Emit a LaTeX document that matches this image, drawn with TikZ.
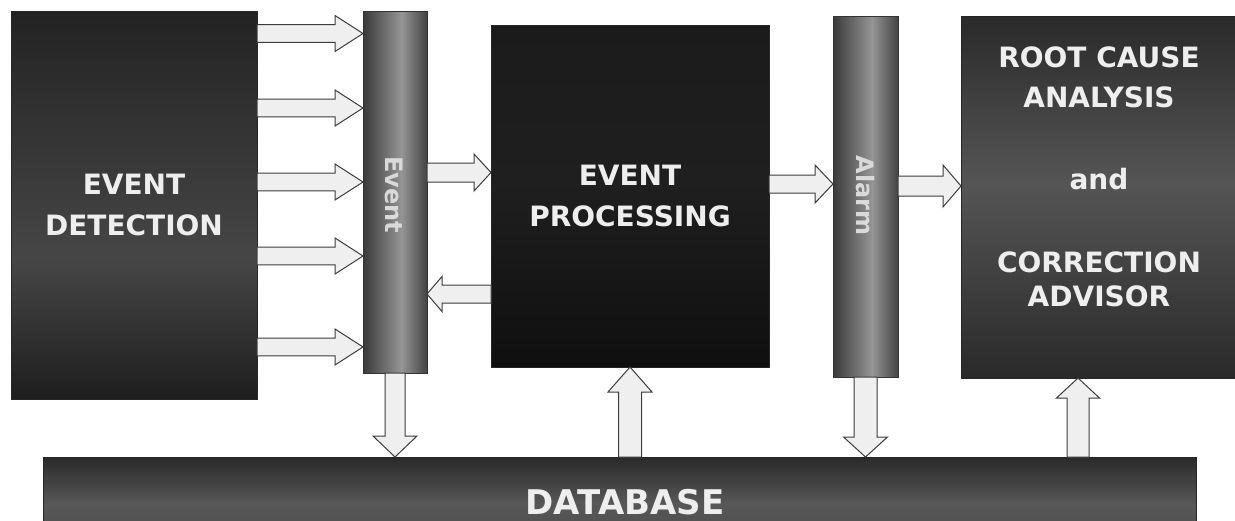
\documentclass[tikz,border=0pt]{standalone}
\usepackage{fontspec}
\setmainfont{DejaVu Sans}
\usetikzlibrary{calc}
\definecolor{edT}{HTML}{232323}
\definecolor{edM}{HTML}{464646}
\definecolor{edB}{HTML}{1E1E1E}
\definecolor{epT}{HTML}{1B1B1B}
\definecolor{epM}{HTML}{1F1F1F}
\definecolor{epB}{HTML}{0F0F0F}
\definecolor{rcT}{HTML}{2A2A2A}
\definecolor{rcM}{HTML}{555555}
\definecolor{rcB}{HTML}{2A2A2A}
\definecolor{dbT}{HTML}{2A2A2A}
\definecolor{dbM}{HTML}{575757}
\definecolor{dbB}{HTML}{4A4A4A}
\definecolor{barD}{HTML}{3A3A3A}
\definecolor{barL}{HTML}{959595}
\definecolor{barE}{HTML}{444444}
\definecolor{arrF}{HTML}{EFEFEF}
\definecolor{arrD}{HTML}{3C3C3C}
\definecolor{txtW}{HTML}{EEEEEE}
\definecolor{txtB}{HTML}{D9D9D9}
\pgfdeclareverticalshading{edsh}{100bp}{color(0bp)=(edB); color(25bp)=(edB); color(43bp)=(edM); color(75bp)=(edT); color(100bp)=(edT)}
\pgfdeclareverticalshading{epsh}{100bp}{color(0bp)=(epB); color(25bp)=(epB); color(52bp)=(epM); color(75bp)=(epT); color(100bp)=(epT)}
\pgfdeclareverticalshading{rcsh}{100bp}{color(0bp)=(rcB); color(25bp)=(rcB); color(52bp)=(rcM); color(75bp)=(rcT); color(100bp)=(rcT)}
\pgfdeclareverticalshading{dbsh}{100bp}{color(0bp)=(dbB); color(25bp)=(dbB); color(52bp)=(dbM); color(75bp)=(dbT); color(100bp)=(dbT)}
\pgfdeclarehorizontalshading{barsh}{100bp}{color(0bp)=(barD); color(25bp)=(barD); color(55bp)=(barL); color(75bp)=(barE); color(100bp)=(barE)}
\tikzset{
  box/.style={draw=black!85, line width=0.8pt, inner sep=0pt, outer sep=0pt, anchor=north west},
  bigtxt/.style={text=txtW, font=\bfseries\fontsize{28}{41}\selectfont, align=center, inner sep=0pt},
  bartxt/.style={text=txtB, font=\bfseries\fontsize{24}{28}\selectfont, inner sep=0pt, rotate=-90},
  barbox/.style={draw=black!80, line width=0.8pt, shading=barsh, inner sep=0pt, outer sep=0pt, anchor=north west},
  bsw/.store in=\bsw, bhw/.store in=\bhw, bhl/.store in=\bhl,
  bsw=9pt, bhw=18.5pt, bhl=17pt,
  blk/.style={draw=arrD, fill=arrF, line width=1pt, line join=miter},
  arR/.style={blk, to path={let \p1=(\tikztostart), \p2=(\tikztotarget) in
    (\x1,{\y1+\bsw}) -- ({\x2-\bhl},{\y1+\bsw}) -- ({\x2-\bhl},{\y1+\bhw}) -- (\x2,\y1)
    -- ({\x2-\bhl},{\y1-\bhw}) -- ({\x2-\bhl},{\y1-\bsw}) -- (\x1,{\y1-\bsw}) -- cycle}},
  arL/.style={blk, to path={let \p1=(\tikztostart), \p2=(\tikztotarget) in
    (\x1,{\y1+\bsw}) -- ({\x2+\bhl},{\y1+\bsw}) -- ({\x2+\bhl},{\y1+\bhw}) -- (\x2,\y1)
    -- ({\x2+\bhl},{\y1-\bhw}) -- ({\x2+\bhl},{\y1-\bsw}) -- (\x1,{\y1-\bsw}) -- cycle}},
  arD/.style={blk, to path={let \p1=(\tikztostart), \p2=(\tikztotarget) in
    ({\x1-\bsw},\y1) -- ({\x1-\bsw},{\y2+\bhl}) -- ({\x1-\bhw},{\y2+\bhl}) -- (\x1,\y2)
    -- ({\x1+\bhw},{\y2+\bhl}) -- ({\x1+\bsw},{\y2+\bhl}) -- ({\x1+\bsw},\y1) -- cycle}},
  arU/.style={blk, to path={let \p1=(\tikztostart), \p2=(\tikztotarget) in
    ({\x1-\bsw},\y1) -- ({\x1-\bsw},{\y2-\bhl}) -- ({\x1-\bhw},{\y2-\bhl}) -- (\x1,\y2)
    -- ({\x1+\bhw},{\y2-\bhl}) -- ({\x1+\bsw},{\y2-\bhl}) -- ({\x1+\bsw},\y1) -- cycle}},
}
\begin{document}
\begin{tikzpicture}[x=1pt,y=-1pt]
\useasboundingbox (0,0) rectangle (1235,520);
\clip (0,0) rectangle (1235,520);
% boxes
\node[box, shading=edsh, minimum width=246pt, minimum height=388pt] (ed) at (11,11) {};
\node[bigtxt] (edt) at (ed.center) {EVENT\\DETECTION};
\node[barbox, minimum width=64pt, minimum height=362pt] (evt) at (363,11) {};
\node[bartxt] (evtt) at (394,195) {Event};
\node[box, shading=epsh, minimum width=278pt, minimum height=342pt] (ep) at (491,25) {};
\node[bigtxt] (ept) at (ep.center) {EVENT\\PROCESSING};
\node[barbox, minimum width=65pt, minimum height=361pt] (alm) at (833,16) {};
\node[bartxt] (almt) at (865,195.5) {Alarm};
\node[box, shading=rcsh, minimum width=274pt, minimum height=362pt] (rca) at (961,16) {};
\node[bigtxt, anchor=north] (rcat) at (1099,47) {ROOT CAUSE\\[-1pt]ANALYSIS\\[41pt]and\\[42pt]CORRECTION\\[-7pt]ADVISOR};
\node[box, shading=dbsh, minimum width=1153pt, minimum height=100pt] (db) at (43,457) {};
\node[text=txtW, font=\bfseries\fontsize{34}{40}\selectfont, inner sep=0pt, anchor=base] (dbt) at (625,514.5) {DATABASE};
% helper rows / columns
\coordinate (r1) at (0,33.5);
\coordinate (r2) at (0,108);
\coordinate (r3) at (0,182);
\coordinate (r4) at (0,256);
\coordinate (r5) at (0,347);
\coordinate (r6) at (0,172.5);
\coordinate (r7) at (0,294);
\coordinate (r8) at (0,184);
\coordinate (r9) at (0,186);
\coordinate (c1) at (630,0);
\coordinate (c2) at (1078,0);
% detection -> event
\draw[arR, bsw=8.8pt, bhw=18pt, bhl=28pt] (ed.east |- r1) to (evt.west |- r1);
\draw[arR, bsw=8.8pt, bhw=18pt, bhl=28pt] (ed.east |- r2) to (evt.west |- r2);
\draw[arR, bsw=8.8pt, bhw=18pt, bhl=28pt] (ed.east |- r3) to (evt.west |- r3);
\draw[arR, bsw=8.8pt, bhw=18pt, bhl=28pt] (ed.east |- r4) to (evt.west |- r4);
\draw[arR, bsw=8.8pt, bhw=18pt, bhl=28pt] (ed.east |- r5) to (evt.west |- r5);
% event <-> processing
\draw[arR, bsw=9.5pt, bhw=18.5pt, bhl=17pt] (evt.east |- r6) to (ep.west |- r6);
\draw[arL, bsw=9pt, bhw=17.5pt, bhl=15pt] (ep.west |- r7) to (evt.east |- r7);
% processing -> alarm -> rca
\draw[arR, bsw=9pt, bhw=19pt, bhl=18pt] (ep.east |- r8) to (alm.west |- r8);
\draw[arR, bsw=10pt, bhw=21pt, bhl=18pt] (alm.east |- r9) to (rca.west |- r9);
% vertical arrows
\draw[arD, bsw=10pt, bhw=22pt, bhl=21pt] (evt.south) to (db.north -| evt.south);
\draw[arU, bsw=11.5pt, bhw=22pt, bhl=25pt] (db.north -| c1) to (ep.south -| c1);
\draw[arD, bsw=11.5pt, bhw=22pt, bhl=20pt] (alm.south) to (db.north -| alm.south);
\draw[arU, bsw=11pt, bhw=21.5pt, bhl=20pt] (db.north -| c2) to (rca.south -| c2);
\end{tikzpicture}
\end{document}
